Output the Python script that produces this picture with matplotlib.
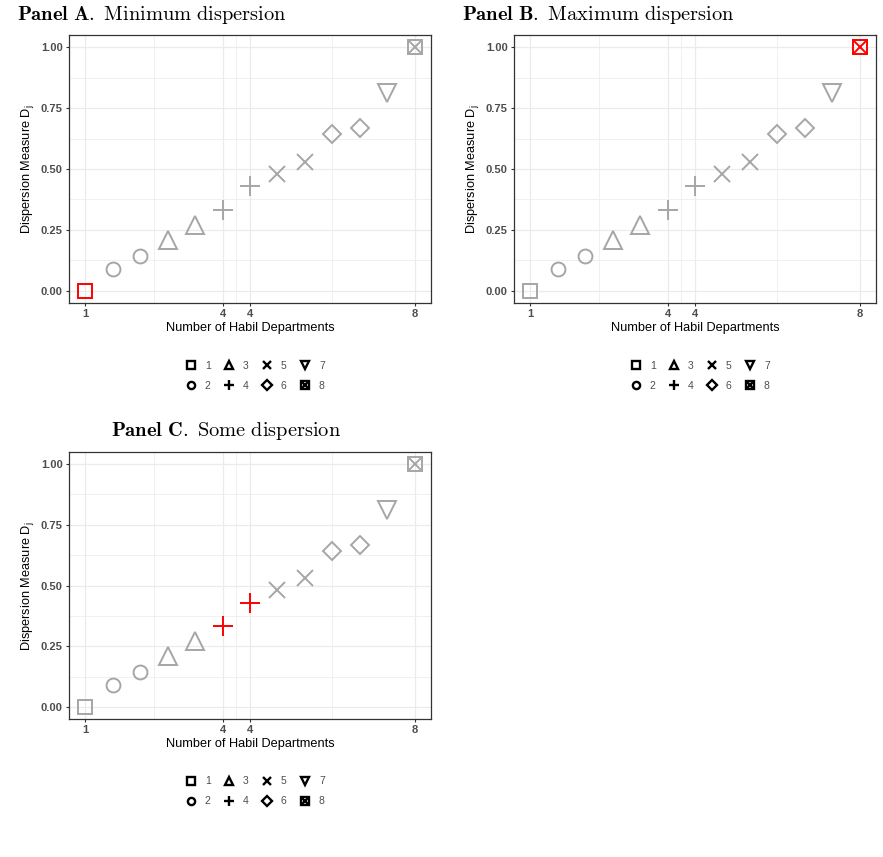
import matplotlib.pyplot as plt
from matplotlib.lines import Line2D

plt.rcParams['font.family'] = ['Liberation Sans', 'DejaVu Sans']
plt.rcParams['mathtext.fontset'] = 'cm'

# Data
n_depts = [1.0, 1.583, 2.167, 2.75, 3.333, 3.917, 4.5, 5.083, 5.667, 6.25, 6.833, 7.417, 8.0]
dispersion = [0.0, 0.089, 0.143, 0.21, 0.27, 0.333, 0.429, 0.48, 0.53, 0.643, 0.667, 0.81, 1.0]
group = [1, 2, 2, 3, 3, 4, 4, 5, 5, 6, 6, 7, 8]

x_ticks = [1.0, 3.917, 4.5, 8.0]
x_ticklabels = ['1', '4', '4', '8']
y_ticks = [0.0, 0.25, 0.5, 0.75, 1.0]

panel_titles = [r'$\mathbf{Panel\ A.}\ \mathrm{Minimum\ dispersion}$',
                r'$\mathbf{Panel\ B.}\ \mathrm{Maximum\ dispersion}$',
                r'$\mathbf{Panel\ C.}\ \mathrm{Some\ dispersion}$']
highlight = [[0], [12], [5, 6]]

# marker style per group (ggplot shapes 0..7)
shapes = {1: ['s'], 2: ['o'], 3: ['^'], 4: ['+'], 5: ['x'], 6: ['D'], 7: ['v'], 8: ['s', 'x']}
sizes = {1: 9.7, 2: 10, 3: 12.5, 4: 14.5, 5: 11, 6: 9.5, 7: 12.5, 8: 10}
leg_sizes = {1: 5.2, 2: 5.2, 3: 6.2, 4: 7.5, 5: 5.8, 6: 5.2, 7: 6.2, 8: 5.2}

GREY = '#a6a6a6'
RED = '#ff0000'
W, H = 883, 857

fig = plt.figure(figsize=(W / 100, H / 100), dpi=100)


def px_axes(left, top, right, bottom):
    return fig.add_axes([left / W, 1 - bottom / H, (right - left) / W, (bottom - top) / H])


def draw_panel(ax, red_idx):
    for i, (x, y, g) in enumerate(zip(n_depts, dispersion, group)):
        col = RED if i in red_idx else GREY
        for m in shapes[g]:
            ax.plot(x, y, marker=m, ms=sizes[g], mfc='none', mec=col, mew=1.4,
                    linestyle='none', zorder=3)
    ax.set_xlim(0.65, 8.35)
    ax.set_ylim(-0.05, 1.05)
    ax.set_xticks(x_ticks)
    ax.set_xticklabels(x_ticklabels)
    ax.set_xticks([2.458, 4.208, 6.25], minor=True)
    ax.set_yticks(y_ticks)
    ax.set_yticklabels(['%.2f' % v for v in y_ticks])
    ax.set_yticks([0.125, 0.375, 0.625, 0.875], minor=True)
    ax.grid(True, which='major', color='#ebebeb', lw=0.9, zorder=0)
    ax.grid(True, which='minor', color='#eeeeee', lw=0.6, zorder=0)
    ax.set_axisbelow(True)
    ax.tick_params(which='major', length=2.5, width=0.8, color='#333333',
                   labelsize=8, labelcolor='#4d4d4d', pad=2)
    ax.tick_params(which='minor', length=0)
    for lab in ax.get_xticklabels() + ax.get_yticklabels():
        lab.set_fontweight('bold')
    for sp in ax.spines.values():
        sp.set_color('#333333')
        sp.set_linewidth(0.9)
    ax.set_xlabel('Number of Habil Departments', fontsize=9.2, labelpad=2)
    ax.set_ylabel(r'Dispersion Measure D$_\mathregular{j}$', fontsize=9.2, labelpad=3)

    handles, labels = [], []
    for g in range(1, 9):
        h = tuple(Line2D([], [], marker=m, ms=leg_sizes[g], mfc='none', mec='black', mew=1.7,
                         linestyle='none') for m in shapes[g])
        handles.append(h if len(h) > 1 else h[0])
        labels.append(str(g))
    ax.legend(handles, labels, ncol=4, loc='upper center', bbox_to_anchor=(0.515, -0.18),
              frameon=False, fontsize=7.5, labelcolor='#4d4d4d', handlelength=1.0,
              handletextpad=0.8, columnspacing=1.3, labelspacing=0.95)


axA = px_axes(69, 35, 431, 303)
axB = px_axes(514, 35, 876, 303)
axC = px_axes(69, 452, 431, 719)

for ax, red in zip([axA, axB, axC], highlight):
    draw_panel(ax, red)

fig.text(17 / W, 1 - 15 / H, panel_titles[0], fontsize=14.7, va='center', ha='left')
fig.text(462 / W, 1 - 15 / H, panel_titles[1], fontsize=14.7, va='center', ha='left')
fig.text(226 / W, 1 - 431 / H, panel_titles[2], fontsize=14.7, va='center', ha='center')

# caption, mostly cut off by the bottom edge as in the source
fig.text(5 / W, -18 / H, r'$\mathrm{Figure\ 3:\ Dispersion\ in\ habil\ departments\ for\ different\ cases}$',
         fontsize=17, color='#555555', va='baseline', ha='left')

fig.savefig('out.png', dpi=100)
